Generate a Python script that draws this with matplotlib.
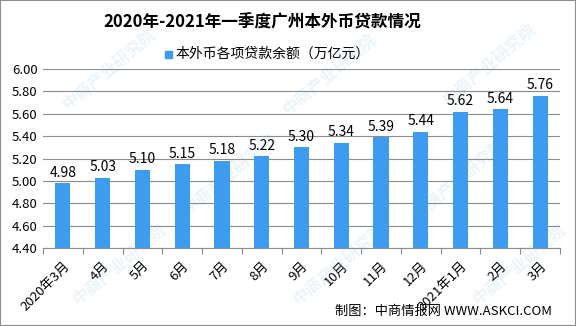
import matplotlib.pyplot as plt
from matplotlib.patches import Rectangle

plt.rcParams['font.family'] = ['Noto Sans CJK SC', 'DejaVu Sans']

# Loan balance in Guangzhou (trillion yuan), 2020-03 to 2021-03
months = ['2020年3月', '4月', '5月', '6月', '7月', '8月', '9月',
          '10月', '11月', '12月', '2021年1月', '2月', '3月']
balance = [4.98, 5.03, 5.10, 5.15, 5.18, 5.22, 5.30,
           5.34, 5.39, 5.44, 5.62, 5.64, 5.76]
y_ticks = [4.40, 4.60, 4.80, 5.00, 5.20, 5.40, 5.60, 5.80, 6.00]

fig = plt.figure(figsize=(5.76, 3.26), dpi=100)
ax = fig.add_axes([43 / 576, 1 - 248 / 326, (560 - 43) / 576, (248 - 69) / 326])

bar_color = '#3d9cf0'
x = range(len(months))
ax.bar(x, balance, width=0.38, color=bar_color, zorder=3)
for xi, v in zip(x, balance):
    ax.text(xi, v + 0.03, f'{v:.2f}', ha='center', va='bottom', fontsize=10)

ax.set_ylim(4.40, 6.00)
ax.set_xlim(-0.5, len(months) - 0.5)
ax.set_yticks(y_ticks)
ax.set_yticklabels([f'{t:.2f}' for t in y_ticks], fontsize=9.5)
ax.yaxis.grid(True, color='#8c8c8c', linewidth=0.8, zorder=0)
ax.tick_params(axis='y', length=0, pad=4)

# category ticks sit between bars
ax.set_xticks([i - 0.5 for i in range(len(months) + 1)], minor=False)
ax.set_xticklabels([''] * (len(months) + 1))
ax.tick_params(axis='x', length=4, color='#8c8c8c', direction='out')
ax.set_xticks(list(x), minor=True)
ax.set_xticklabels(months, minor=True, rotation=45, ha='right',
                   rotation_mode='anchor', fontsize=9.5)
ax.tick_params(axis='x', which='minor', length=0, pad=8)

for side in ['top', 'right', 'left']:
    ax.spines[side].set_visible(False)
ax.spines['bottom'].set_color('#8c8c8c')

fig.text(262 / 576, 1 - 22 / 326, '2020年-2021年一季度广州本外币贷款情况',
         ha='center', va='center', fontsize=12, fontweight='bold')

# legend
fig.patches.append(Rectangle((165 / 576, 1 - 58 / 326), 7 / 576, 7 / 326,
                             transform=fig.transFigure, color=bar_color))
fig.text(175 / 576, 1 - 54 / 326, '本外币各项贷款余额（万亿元）',
         ha='left', va='center', fontsize=10)

fig.text(552 / 576, 1 - 311 / 326, '制图：中商情报网 WWW.ASKCI.COM',
         ha='right', va='center', fontsize=9.5)

# faint watermark
for wx, wy in [(110, 70), (330, 75), (490, 65), (230, 175), (460, 180),
               (120, 265), (340, 265), (520, 265)]:
    fig.text(wx / 576, 1 - wy / 326, '中商产业研究院', fontsize=12,
             color='#5aa5d8', alpha=0.12, rotation=40,
             ha='center', va='center', fontweight='bold')

fig.patches.append(Rectangle((0, 0), 1, 1, transform=fig.transFigure,
                             fill=False, edgecolor='#8c8c8c', linewidth=1.5))

fig.savefig('out.png', dpi=100)
